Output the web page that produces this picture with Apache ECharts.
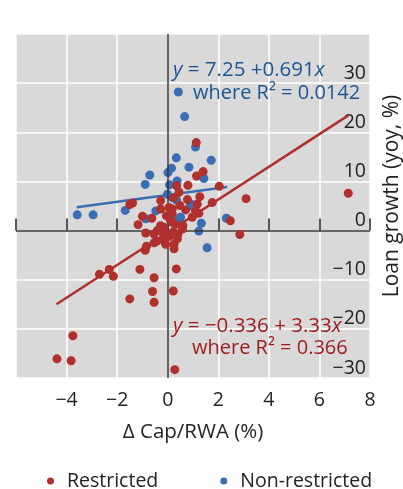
<!DOCTYPE html>
<html><head><meta charset="utf-8">
<script src="https://cdn.jsdelivr.net/npm/echarts@6/dist/echarts.min.js"></script>
<style>html,body{margin:0;padding:0;background:#fff}#c{width:403px;height:489px}</style>
</head><body><div id="c"></div>
<script>
// ---- data ----
const seriesNames = ['Restricted', 'Non-restricted'];
const xTicks = [-6, -4, -2, 0, 2, 4, 6, 8];
const yTicks = [-30, -20, -10, 0, 10, 20, 30, 40];
const restricted = [
  [1.13,17.9],[1.40,12.0],[1.14,11.1],[0.35,9.1],[0.80,9.2],[2.04,9.0],[0.45,7.8],[1.27,6.9],
  [0.78,6.3],[3.1,6.5],[7.14,7.6],[1.76,5.7],[1.17,5.4],[0.25,6.7],[-0.28,6.1],[-1.5,5.3],
  [-1.39,5.6],[0.48,5.1],[1.10,4.0],[0.71,4.2],[0.18,4.4],[0.05,4.7],[-0.28,4.4],[0.97,2.7],
  [1.23,3.5],[0.18,3.4],[-1.0,2.9],[-0.63,2.5],[-1.17,1.2],[-0.28,1.0],[-0.15,0.7],[-0.41,0],
  [0.18,1.7],[0.58,0.3],[0.22,-0.3],[-0.08,-0.5],[-0.87,-0.5],[-0.54,-0.7],[2.48,2.0],[2.85,-0.8],
  [0.1,2.2],[0.3,1.2],[-0.05,3.0],[0.4,-0.8],[-0.2,-0.3],[0.6,1.0],[0.05,-1.2],
  [-0.15,-2.0],[-0.54,-2.5],[-0.44,-2.2],[-0.08,-2.8],[0.25,-2.8],[0.38,-1.7],[-0.84,-3.2],
  [-0.89,-4.0],[0.25,-3.7],[-2.7,-8.9],[-2.31,-7.9],[-2.15,-9.3],[-1.1,-7.9],[-0.54,-9.6],
  [0.34,-7.8],[-0.6,-12.4],[-1.5,-13.9],[-0.54,-14.6],[0.22,-12.3],[-3.75,-21.4],[-4.38,-26.1],
  [-3.82,-26.5],[0.28,-28.3]
];
const nonRestricted = [
  [0.42,28.2],[0.67,23.2],[1.10,17.0],[0.34,14.8],[1.72,14.3],[-0.71,11.3],[-0.89,9.4],[0.01,11.8],
  [0.15,12.7],[0.84,12.9],[0.37,10.1],[0.07,9.3],[1.43,10.6],[-0.01,7.4],[0.18,6.7],[-3.58,3.2],
  [-2.95,3.2],[-1.68,4.1],[-0.47,4.0],[0.35,6.2],[0.91,5.1],[0.45,2.4],[0.51,2.7],[1.33,1.5],
  [1.23,-0.1],[1.56,-3.5],[2.32,2.5],[-0.15,-0.9],[-0.87,2.4],[0.9,5.4]
];
const restrictedFit = [[-4.4,-15.0],[7.13,23.4]];
const nonRestrictedFit = [[-3.6,4.76],[2.35,8.87]];

// ---- style ----
const RED = '#b0302e', BLUE = '#3a6db3', RED_T = '#9e1b1b', BLUE_T = '#1d5593';
const FONT = 'Open Sans';
const FS = 19.5;
const minus = v => String(v).replace('-', '\u2212');

const chart = echarts.init(document.getElementById('c'), null, {renderer: 'canvas'});
chart.setOption({
  animation: false,
  backgroundColor: '#ffffff',
  grid: {left: 16, right: 33, top: 34, bottom: 111, show: true, backgroundColor: '#d9d9d9',
    borderWidth: 0, outerBoundsMode: 'none'},
  xAxis: {
    type: 'value', min: xTicks[0], max: xTicks[xTicks.length - 1], interval: 2,
    name: '\u0394 Cap/RWA (%)', nameLocation: 'middle', nameGap: 44,
    nameTextStyle: {fontFamily: FONT, fontSize: 20.5, color: '#222'},
    axisLine: {show: false},
    axisTick: {show: true, inside: true, length: 12, lineStyle: {color: '#222', width: 1.5}},
    axisLabel: {margin: 12, fontFamily: FONT, fontSize: FS, color: '#222',
      formatter: v => (v === xTicks[0] ? '' : minus(v))},
    splitLine: {show: true, lineStyle: {color: '#ffffff', width: 1.5}}
  },
  yAxis: {
    type: 'value', min: yTicks[0], max: yTicks[yTicks.length - 1], interval: 10, position: 'right',
    name: 'Loan growth (yoy, %)', nameLocation: 'middle', nameGap: 12,
    nameTextStyle: {fontFamily: FONT, fontSize: 21, color: '#222', verticalAlign: 'top', padding: [0, 0, 0, 20]},
    axisLine: {show: false},
    axisTick: {show: false},
    axisLabel: {inside: true, margin: 4, align: 'right', verticalAlign: 'bottom',
      fontFamily: FONT, fontSize: FS, color: '#222',
      formatter: v => (v === yTicks[yTicks.length - 1] ? '' : minus(v))},
    splitLine: {show: true, lineStyle: {color: '#ffffff', width: 1.5}}
  },
  legend: {
    top: 466, left: 42, itemGap: 62, icon: 'circle', itemWidth: 7, itemHeight: 7,
    data: seriesNames,
    textStyle: {fontFamily: FONT, fontSize: FS, color: '#222', padding: [0, 0, 0, 8]}
  },
  series: [
    {
      name: seriesNames[1], type: 'scatter', data: nonRestricted, symbolSize: 9,
      itemStyle: {color: BLUE, opacity: 1}, z: 3,
      markLine: {
        silent: true, symbol: 'none', label: {show: false},
        lineStyle: {color: '#333', width: 1.5, type: 'solid'},
        data: [{xAxis: 0}, {yAxis: 0}]
      }
    },
    {
      name: 'nrfit', type: 'line', data: nonRestrictedFit, showSymbol: false, symbol: 'none',
      lineStyle: {color: BLUE, width: 2.5}, z: 4
    },
    {
      name: seriesNames[0], type: 'scatter', data: restricted, symbolSize: 9,
      itemStyle: {color: RED, opacity: 1}, z: 5
    },
    {
      name: 'rfit', type: 'line', data: restrictedFit, showSymbol: false, symbol: 'none',
      lineStyle: {color: RED, width: 2.5}, z: 6
    }
  ],
  graphic: [
    {type: 'text', left: 173, top: 60, z: 10, style: {
      text: '{i|y} = 7.25 +0.691{i|x}', fill: BLUE_T, font: '20.5px ' + FONT,
      rich: {i: {fontStyle: 'italic', fontSize: 20.5, fontFamily: FONT, fill: BLUE_T}}}},
    {type: 'text', left: 193, top: 83, z: 10, style: {
      text: 'where R\u00b2 = 0.0142', fill: BLUE_T, font: '20px ' + FONT}},
    {type: 'text', left: 173, top: 316, z: 10, style: {
      text: '{i|y} = \u22120.336 + 3.33{i|x}', fill: RED_T, font: '20.5px ' + FONT,
      rich: {i: {fontStyle: 'italic', fontSize: 20.5, fontFamily: FONT, fill: RED_T}}}},
    {type: 'text', left: 192, top: 338, z: 10, style: {
      text: 'where R\u00b2 = 0.366', fill: RED_T, font: '20px ' + FONT}}
  ]
});
</script></body></html>
